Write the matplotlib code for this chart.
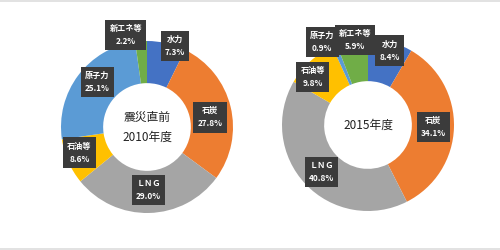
import numpy as np
import matplotlib.pyplot as plt
from matplotlib.lines import Line2D

plt.rcParams['font.family'] = ['Noto Sans CJK JP', 'DejaVu Sans']

labels = ['水力', '石炭', 'ＬＮＧ', '石油等', '原子力', '新エネ等']
colors = ['#4472C4', '#ED7D31', '#A5A5A5', '#FFC000', '#5B9BD5', '#70AD47']
share_2010 = [7.3, 27.8, 29.0, 8.6, 25.1, 2.2]
share_2015 = [8.4, 34.1, 40.8, 9.8, 0.9, 5.9]
title_2010 = '震災直前\n2010年度'
title_2015 = '2015年度'

# label radius / angle nudge (deg) per wedge, to mimic the manual placement
place_2010 = [(1.0, 6), (0.74, 5), (0.73, 0), (0.84, 3), (0.78, 5), (1.1, -9)]
place_2015 = [(0.9, 1), (0.76, 0), (0.77, -2), (0.85, -7), (1.1, -6), (1.0, 2)]

W, H = 500, 250
R = 86  # outer radius in px


def draw_donut(fig, cx, cy, values, title, place):
    half = 100
    ax = fig.add_axes([(cx - half) / W, (H - cy - half) / H, 2 * half / W, 2 * half / H])
    wedges, _ = ax.pie(values, colors=colors, startangle=90, counterclock=False,
                       radius=1, wedgeprops=dict(width=0.49, edgecolor='none'))
    ax.set_xlim(-half / R, half / R)
    ax.set_ylim(-half / R, half / R)
    ax.set_aspect('equal')
    ax.axis('off')
    for w, lab, v, (r, da) in zip(wedges, labels, values, place):
        ang = np.deg2rad((w.theta1 + w.theta2) / 2 - da)
        x, y = r * np.cos(ang), r * np.sin(ang)
        ax.text(x, y, lab + '\n' + f'{v:.1f}%', ha='center', va='center',
                color='white', fontsize=5.9, fontweight='bold', linespacing=1.6,
                bbox=dict(boxstyle='square,pad=0.5', fc='#3b3b3b', ec='none'))
    ax.text(0, 0, title, ha='center', va='center', fontsize=8.5,
            linespacing=1.7, color='#222222')


fig = plt.figure(figsize=(5, 2.5), dpi=100)
draw_donut(fig, 147, 127, share_2010, title_2010, place_2010)
draw_donut(fig, 368, 125, share_2015, title_2015, place_2015)
fig.add_artist(Line2D([0, 1], [0.998, 0.998], color='#dddddd', lw=1.2, transform=fig.transFigure))
fig.add_artist(Line2D([0, 1], [0.006, 0.006], color='#dddddd', lw=1.2, transform=fig.transFigure))
fig.savefig('out.png', dpi=100, facecolor='white')
